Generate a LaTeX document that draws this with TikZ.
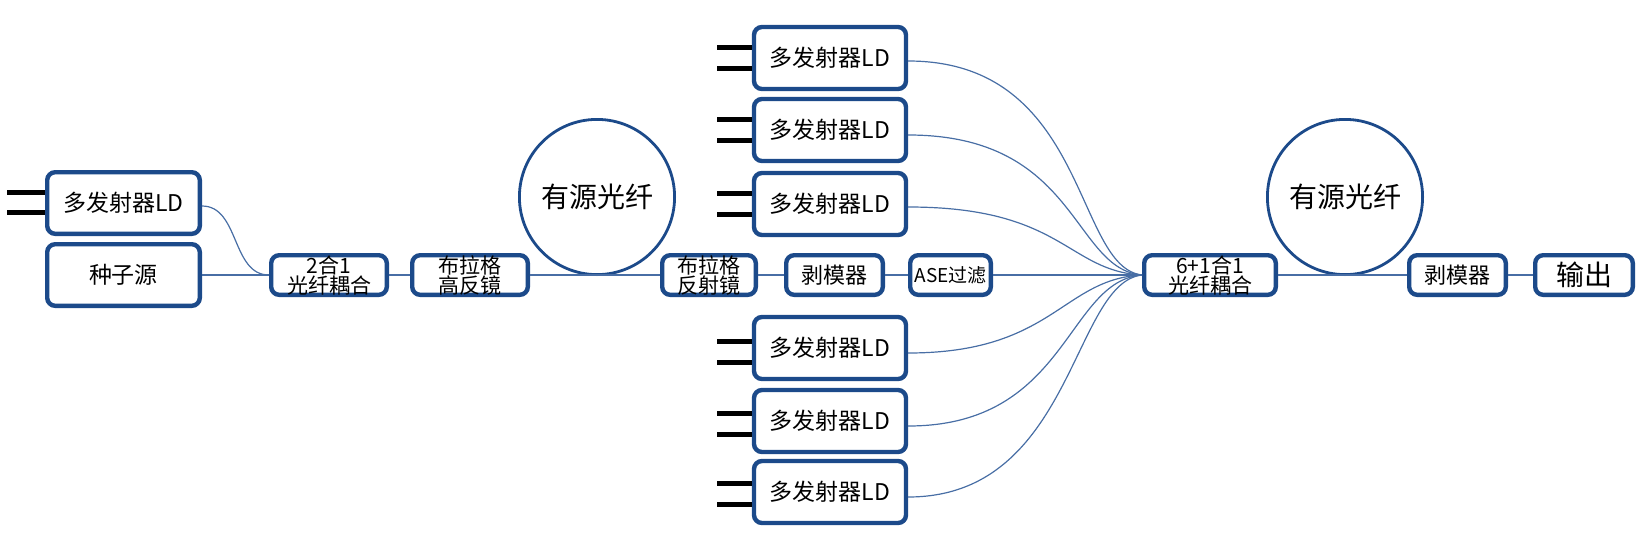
\documentclass[tikz,border=0pt]{standalone}
\usepackage{fontspec}
\setmainfont{Noto Sans CJK SC}
\usetikzlibrary{positioning}
\definecolor{boxblue}{RGB}{28,74,138}
\definecolor{fibreblue}{RGB}{72,110,165}

\begin{document}
\begin{tikzpicture}[x=0.5pt,y=-0.5pt]

\tikzstyle{box}=[draw=boxblue, line width=2.2pt, rounded corners=4pt, fill=white, minimum height=19.8pt, inner sep=0pt, align=center, font=\fontsize{10.5}{10}\selectfont]
\tikzstyle{ld}=[box, minimum width=76pt, minimum height=31pt, font=\fontsize{11.5}{13}\selectfont]
\tikzstyle{gain}=[draw=boxblue, line width=1.4pt, circle, minimum size=77.6pt, inner sep=0pt, font=\fontsize{14}{15}\selectfont]
\tikzstyle{fibre}=[draw=fibreblue, line width=1pt]
\tikzstyle{pump}=[draw=fibreblue, line width=0.6pt]
\tikzstyle{pin}=[draw, line width=2.5pt]

\useasboundingbox (0,0) rectangle (1651,536);

\node[ld, minimum width=76.3pt, minimum height=30.8pt] (seed) at (123.5,275) {种子源};
\node[ld, minimum width=76.3pt, minimum height=30.8pt, above=3pt of seed] (ld0) {多发射器LD};

\node[box, minimum width=57.8pt, right=33.5pt of seed] (coupler_a) {2合1\\光纤耦合};
\node[box, minimum width=57.8pt, right=10.5pt of coupler_a] (bragg_hr) {布拉格\\高反镜};
\node[gain] (gain_a) at (597,197) {有源光纤};
\node[box, minimum width=46.8pt, right=65pt of bragg_hr] (bragg_lr) {布拉格\\反射镜};
\node[box, minimum width=48.3pt, right=13pt of bragg_lr, font=\fontsize{11}{12}\selectfont] (stripper_a) {剥模器};
\node[box, minimum width=40.3pt, right=11.5pt of stripper_a, font=\fontsize{9.5}{12}\selectfont] (ase_filter) {ASE过滤};
\node[box, minimum width=65.8pt, right=74.5pt of ase_filter] (coupler_b) {6+1合1\\光纤耦合};
\node[gain] (gain_b) at (1345,197) {有源光纤};
\node[box, minimum width=48.3pt, right=64.5pt of coupler_b, font=\fontsize{11}{12}\selectfont] (stripper_b) {剥模器};
\node[box, minimum width=48.8pt, right=12.5pt of stripper_b, font=\fontsize{14}{15}\selectfont] (output) {输出};

\node[ld] (ld1) at (830,58) {多发射器LD};
\node[ld] (ld2) at (830,130) {多发射器LD};
\node[ld] (ld3) at (830,204) {多发射器LD};
\node[ld] (ld4) at (830,348) {多发射器LD};
\node[ld] (ld5) at (830,421) {多发射器LD};
\node[ld] (ld6) at (830,492) {多发射器LD};

% pins of the pump diodes
\draw[pin] ([yshift=5.5pt]ld0.west) -- +(-19pt,0);
\draw[pin] ([yshift=-4.5pt]ld0.west) -- +(-19pt,0);
\draw[pin] ([yshift=5.25pt]ld1.west) -- +(-17.5pt,0);
\draw[pin] ([yshift=-5.25pt]ld1.west) -- +(-17.5pt,0);
\draw[pin] ([yshift=5.25pt]ld2.west) -- +(-17.5pt,0);
\draw[pin] ([yshift=-5.25pt]ld2.west) -- +(-17.5pt,0);
\draw[pin] ([yshift=5.25pt]ld3.west) -- +(-17.5pt,0);
\draw[pin] ([yshift=-5.25pt]ld3.west) -- +(-17.5pt,0);
\draw[pin] ([yshift=3.5pt]ld4.west) -- +(-17.5pt,0);
\draw[pin] ([yshift=-7pt]ld4.west) -- +(-17.5pt,0);
\draw[pin] ([yshift=4pt]ld5.west) -- +(-17.5pt,0);
\draw[pin] ([yshift=-6.5pt]ld5.west) -- +(-17.5pt,0);
\draw[pin] ([yshift=4.5pt]ld6.west) -- +(-17.5pt,0);
\draw[pin] ([yshift=-6pt]ld6.west) -- +(-17.5pt,0);

\path[fibre] (seed) -- (coupler_a);
\path[fibre] (coupler_a) -- (bragg_hr);
\path[fibre] (bragg_hr) -- (bragg_lr);
\path[fibre] (bragg_lr) -- (stripper_a);
\path[fibre] (stripper_a) -- (ase_filter);
\path[fibre] (ase_filter) -- (coupler_b);
\path[fibre] (coupler_b) -- (stripper_b);
\path[fibre] (stripper_b) -- (output);

\path[pump] ([yshift=-1.5pt]ld0.east) to[out=0, in=180] (coupler_a.west);
\path[pump] ([yshift=-1.5pt]ld1.east) .. controls +(180,0) and +(-68,-8) .. (coupler_b.west);
\path[pump] ([yshift=-2.5pt]ld2.east) .. controls +(170,0) and +(-70,-6) .. (coupler_b.west);
\path[pump] ([yshift=-1.5pt]ld3.east) .. controls +(155,0) and +(-75,-4) .. (coupler_b.west);
\path[pump] ([yshift=-2.5pt]ld4.east) .. controls +(145,0) and +(-80,4) .. (coupler_b.west);
\path[pump] ([yshift=-2.5pt]ld5.east) .. controls +(160,0) and +(-76,6) .. (coupler_b.west);
\path[pump] ([yshift=-2.5pt]ld6.east) .. controls +(165,0) and +(-70,8) .. (coupler_b.west);

\end{tikzpicture}
\end{document}
